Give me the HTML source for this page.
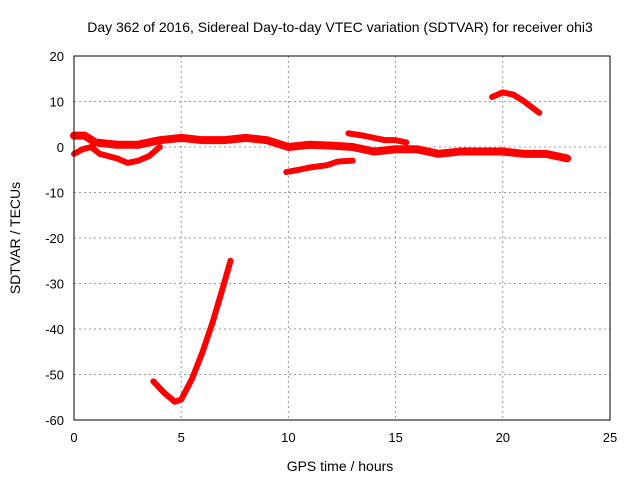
<!DOCTYPE html>
<html><head><meta charset="utf-8"><style>body{margin:0;background:#fff}svg{display:block;font-family:"Liberation Sans",sans-serif}</style></head>
<body>
<svg id="chart" width="640" height="480">
<text x="340" y="32" font-size="14" text-anchor="middle">Day 362 of 2016, Sidereal Day-to-day VTEC variation (SDTVAR) for receiver ohi3</text>
<text x="340" y="471" font-size="14" text-anchor="middle">GPS time / hours</text>
<text x="20" y="238" font-size="14" text-anchor="middle" transform="rotate(-90 20 238)">SDTVAR / TECUs</text>
<g id="grid"></g><g id="series"></g>
<rect x="74" y="56" width="536" height="364" fill="none" stroke="#000"/>
</svg>
<script>
const xTicks=[0,5,10,15,20,25];
const yTicks=[20,10,0,-10,-20,-30,-40,-50,-60];
const mainBand=[[0,2.5],[0.5,2.5],[1,1],[2,0.5],[3,0.5],[4,1.5],[5,2],[6,1.5],[7,1.5],[8,2],[9,1.5],[10,0],[11,0.5],[12,0.3],[13,0],[14,-1],[15,-0.5],[16,-0.5],[17,-1.5],[18,-1],[19,-1],[20,-1],[21,-1.5],[22,-1.5],[23,-2.5]];
const lowerLoop=[[0,-1.5],[0.4,-0.5],[0.8,0],[1.2,-1.5],[1.6,-2],[2,-2.5],[2.5,-3.5],[3,-3],[3.5,-2],[4,0]];
const midLow=[[9.9,-5.5],[10.5,-5],[11,-4.5],[11.8,-4],[12.3,-3.2],[13,-3]];
const midHigh=[[12.8,3],[13.5,2.5],[14.5,1.5],[15,1.5],[15.5,1]];
const arcHigh=[[19.5,11],[20,12],[20.5,11.5],[21,10],[21.7,7.5]];
const dip=[[3.7,-51.5],[4.2,-54],[4.7,-56],[5,-55.5],[5.5,-51],[6,-45],[6.5,-38],[7,-30],[7.3,-25]];
const sx=v=>74+v*536/25, sy=v=>56+(20-v)*364/80;
const NS='http://www.w3.org/2000/svg';
const grid=document.getElementById('grid'), ser=document.getElementById('series');
function mk(t,a,p){const e=document.createElementNS(NS,t);for(const k in a)e.setAttribute(k,a[k]);p.appendChild(e);return e;}
xTicks.forEach(t=>{const x=sx(t);
 if(t>0&&t<25){const l=mk('line',{x1:x,x2:x,y1:56,y2:420,stroke:'#999','stroke-dasharray':'2,3'},grid);
 
 }
 const tx=mk('text',{x:x,y:442,'font-size':13,'text-anchor':'middle'},grid);tx.textContent=t;
 
 });
yTicks.forEach(t=>{const y=sy(t);
 if(t>-60&&t<20){const l=mk('line',{x1:74,x2:610,y1:y,y2:y,stroke:'#999','stroke-dasharray':'2,3'},grid);
 
 }
 const tx=mk('text',{x:64,y:y+5,'font-size':13,'text-anchor':'end'},grid);tx.textContent=t;
 
 });
[[mainBand,'main-band',8],[lowerLoop,'lower-loop',6],[midLow,'mid-low-segment',6],[midHigh,'mid-high-segment',6],[arcHigh,'high-arc',6],[dip,'deep-dip',6]].forEach(([d,n,w])=>{
 const p=mk('polyline',{points:d.map(q=>sx(q[0])+','+sy(q[1])).join(' '),fill:'none',stroke:'#f00','stroke-width':w,'stroke-linejoin':'round','stroke-linecap':'round'},ser);
 
 });
</script>
</body></html>
